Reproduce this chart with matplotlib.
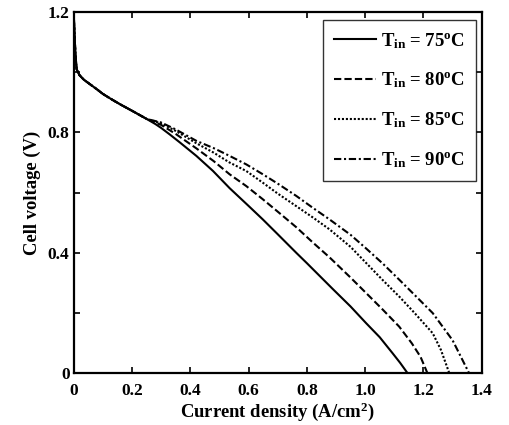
import matplotlib
matplotlib.use("Agg")
import matplotlib.pyplot as plt
from matplotlib.ticker import FixedLocator, FuncFormatter

plt.rcParams['font.family'] = ['Liberation Serif', 'DejaVu Serif']
plt.rcParams['font.weight'] = 'bold'
plt.rcParams['mathtext.fontset'] = 'custom'
plt.rcParams['mathtext.rm'] = 'Liberation Serif:bold'
plt.rcParams['mathtext.it'] = 'Liberation Serif:bold'
plt.rcParams['mathtext.bf'] = 'Liberation Serif:bold'

# Data
x_start = [0, 0.003, 0.006, 0.01, 0.02, 0.035, 0.056, 0.08, 0.1, 0.13, 0.16, 0.2, 0.25]
v_start = [1.2, 1.12, 1.06, 1.01, 0.99, 0.975, 0.96, 0.943, 0.928, 0.91, 0.893, 0.872, 0.845]

x75 = x_start + [0.28, 0.3, 0.33, 0.364, 0.421, 0.478, 0.535, 0.6, 0.649, 0.7, 0.764, 0.8, 0.889, 0.95, 1.003, 1.05, 1.094, 1.12, 1.146]
v75 = v_start + [0.828, 0.815, 0.793, 0.767, 0.722, 0.672, 0.615, 0.556, 0.511, 0.462, 0.40, 0.366, 0.28, 0.222, 0.167, 0.12, 0.067, 0.035, 0.0]

x80 = x_start + [0.3, 0.35, 0.421, 0.48, 0.535, 0.592, 0.649, 0.7, 0.764, 0.82, 0.878, 0.95, 1.003, 1.06, 1.117, 1.16, 1.19, 1.214]
v80 = v_start + [0.825, 0.795, 0.747, 0.705, 0.661, 0.622, 0.578, 0.537, 0.485, 0.435, 0.385, 0.318, 0.267, 0.212, 0.155, 0.10, 0.055, 0.0]

x85 = x_start + [0.3, 0.35, 0.421, 0.48, 0.535, 0.592, 0.649, 0.7, 0.764, 0.82, 0.878, 0.95, 1.0, 1.06, 1.117, 1.17, 1.232, 1.26, 1.289]
v85 = v_start + [0.83, 0.805, 0.764, 0.733, 0.70, 0.672, 0.633, 0.597, 0.555, 0.518, 0.478, 0.42, 0.37, 0.31, 0.255, 0.20, 0.133, 0.078, 0.0]

x90 = x_start + [0.3, 0.35, 0.421, 0.48, 0.535, 0.592, 0.649, 0.7, 0.764, 0.82, 0.878, 0.95, 1.003, 1.06, 1.117, 1.17, 1.232, 1.3, 1.357]
v90 = v_start + [0.833, 0.81, 0.772, 0.748, 0.722, 0.694, 0.661, 0.63, 0.589, 0.55, 0.511, 0.46, 0.415, 0.365, 0.311, 0.26, 0.20, 0.11, 0.0]

labels = [r'$T_{in}$ = 75$^{o}$C', r'$T_{in}$ = 80$^{o}$C',
          r'$T_{in}$ = 85$^{o}$C', r'$T_{in}$ = 90$^{o}$C']
xticks = [0, 0.2, 0.4, 0.6, 0.8, 1.0, 1.2, 1.4]
xticklabels = ['0', '0.2', '0.4', '0.6', '0.8', '1.0', '1.2', '1.4']
yticks = [0, 0.2, 0.4, 0.6, 0.8, 1.0, 1.2]
ylabeled = {0: '0', 0.4: '0.4', 0.8: '0.8', 1.2: '1.2'}

fig = plt.figure(figsize=(5.1, 4.25), dpi=100)
ax = fig.add_axes([0.1445, 0.1216, 0.80, 0.8502])

lw = 1.5
ax.plot(x75, v75, color='black', lw=lw, linestyle='-', label=labels[0])
ax.plot(x80, v80, color='black', lw=lw, linestyle=(0, (3.5, 1.5)), label=labels[1])
ax.plot(x85, v85, color='black', lw=lw, linestyle=(0, (1, 0.9)), label=labels[2])
ax.plot(x90, v90, color='black', lw=lw, linestyle=(0, (3.5, 1.3, 1, 1.3)), label=labels[3])

ax.set_xlim(0, 1.4)
ax.set_ylim(0, 1.2)
ax.xaxis.set_major_locator(FixedLocator(xticks))
ax.set_xticklabels(xticklabels)
ax.yaxis.set_major_locator(FixedLocator(yticks))
ax.yaxis.set_major_formatter(FuncFormatter(
    lambda v, p: next((s for k, s in ylabeled.items() if abs(k - v) < 1e-6), '')))

ax.tick_params(direction='in', length=4, width=1.2, top=True, right=True,
               labelsize=12.5)
ax.tick_params(axis='x', pad=7)
ax.tick_params(axis='y', pad=3)
for lab in ax.get_xticklabels() + ax.get_yticklabels():
    lab.set_fontweight('bold')
for s in ax.spines.values():
    s.set_linewidth(1.6)

ax.set_xlabel(r'Current density (A/cm$^{2}$)', fontsize=13.4, fontweight='bold', labelpad=1)
ax.set_ylabel('Cell voltage (V)', fontsize=13.4, fontweight='bold', labelpad=5)

leg = ax.legend(loc='upper right', bbox_to_anchor=(0.986, 0.978), fontsize=13.5,
                frameon=True, fancybox=False, handlelength=2.2, handletextpad=0.3,
                labelspacing=1.08, borderpad=0.58, borderaxespad=0)
leg.get_frame().set_edgecolor('black')
leg.get_frame().set_linewidth(1.0)

fig.savefig('out.png', dpi=100)
